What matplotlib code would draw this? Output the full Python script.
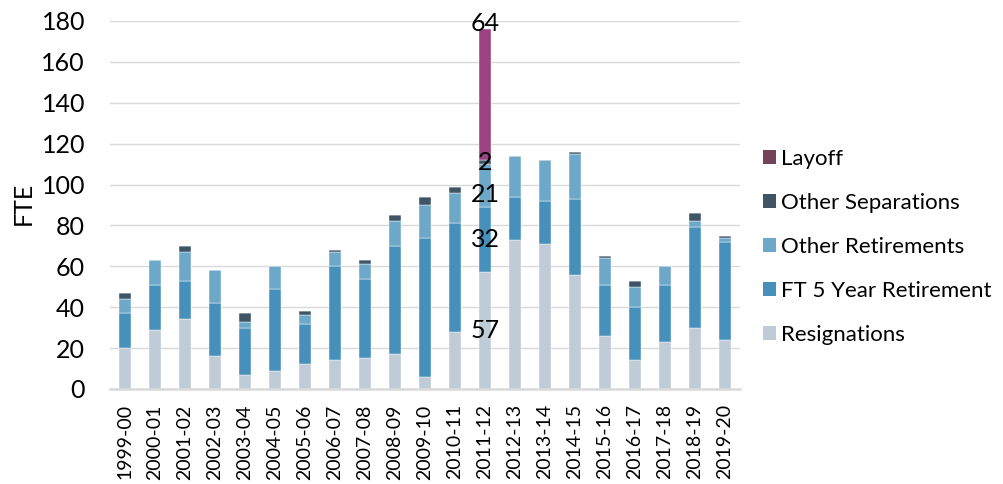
import matplotlib
matplotlib.use("Agg")
import matplotlib.pyplot as plt
from matplotlib.patches import Patch
import numpy as np

plt.rcParams['font.family'] = ['Lato', 'DejaVu Sans']

# Fiscal years and separations by type (FTE)
categories = ['1999-00', '2000-01', '2001-02', '2002-03', '2003-04', '2004-05',
              '2005-06', '2006-07', '2007-08', '2008-09', '2009-10', '2010-11',
              '2011-12', '2012-13', '2013-14', '2014-15', '2015-16', '2016-17',
              '2017-18', '2018-19', '2019-20']
resignations = [20, 29, 34, 16, 7, 9, 12, 14, 15, 17, 6, 28, 57, 73, 71, 56, 26, 14, 23, 30, 24]
ft5_retirement = [17, 22, 19, 26, 23, 40, 20, 46, 39, 53, 68, 53, 32, 21, 21, 37, 25, 26, 28, 49, 48]
other_retirements = [7, 12, 14, 16, 3, 11, 4, 7, 7, 12, 16, 15, 21, 20, 20, 22, 13, 10, 9, 3, 2]
other_separations = [3, 0, 3, 0, 4, 0, 2, 1, 2, 3, 4, 3, 2, 0, 0, 1, 1, 3, 0, 4, 1]
layoff = [0, 0, 0, 0, 0, 0, 0, 0, 0, 0, 0, 0, 64, 0, 0, 0, 0, 0, 0, 0, 0]

labelled_year = '2011-12'
y_ticks = [0, 20, 40, 60, 80, 100, 120, 140, 160, 180]

series = [
    ('Resignations', resignations, '#BFCBD6'),
    ('FT 5 Year Retirement', ft5_retirement, '#4690BB'),
    ('Other Retirements', other_retirements, '#6EA8C9'),
    ('Other Separations', other_separations, '#3F5566'),
    ('Layoff', layoff, '#9C4282'),
]
legend_colors = {'Layoff': '#74435A'}

fig = plt.figure(figsize=(10.04, 4.84), dpi=100)
ax = fig.add_axes([110 / 1004, 1 - 389 / 484, 630 / 1004, 368 / 484])

x = np.arange(len(categories))
bottom = np.zeros(len(categories))
segments = {}
for name, vals, color in series:
    vals = np.array(vals, dtype=float)
    ax.bar(x, vals, width=0.4, bottom=bottom, color=color,
           edgecolor='white', linewidth=0.3, zorder=2)
    segments[name] = (bottom.copy(), vals)
    bottom = bottom + vals

# Value labels on the 2011-12 stack
i = categories.index(labelled_year)
label_offsets = {'Resignations': 0, 'FT 5 Year Retirement': 0,
                 'Other Retirements': -6.5, 'Other Separations': 0}
for name, _, _ in series:
    b, v = segments[name]
    if v[i] <= 0:
        continue
    if name == 'Layoff':
        ypos, dy = b[i] + v[i], 4
    else:
        ypos, dy = b[i] + v[i] / 2, label_offsets[name]
    ax.annotate(f'{int(v[i])}', (x[i], ypos), xytext=(0, dy),
                textcoords='offset points', ha='center', va='center',
                fontsize=18, color='black', zorder=5)

ax.set_xlim(-0.5, len(categories) - 0.5)
ax.set_ylim(0, 180)
ax.set_yticks(y_ticks)
ax.set_xticks(x)
ax.set_xticklabels(categories, rotation=90, fontsize=14)
ax.tick_params(axis='y', length=0, pad=18, labelsize=18)
ax.tick_params(axis='x', length=0, pad=11)

ax.yaxis.grid(True, color='#D9D9D9', linewidth=1.0)
ax.set_axisbelow(True)
for s in ['top', 'right', 'left']:
    ax.spines[s].set_visible(False)
ax.spines['bottom'].set_color('#D9D9D9')
ax.spines['bottom'].set_linewidth(1.8)
ax.spines['bottom'].set_zorder(3)

fig.text(23 / 1004, 1 - 203 / 484, 'FTE', rotation=90, ha='center',
         va='center', fontsize=18)

handles = [Patch(facecolor=legend_colors.get(n, c), edgecolor='none', label=n)
           for n, _, c in reversed(series)]
fig.legend(handles=handles, loc='center left',
           bbox_to_anchor=(763 / 1004, 1 - 246.75 / 484),
           frameon=False, fontsize=16, borderpad=0, borderaxespad=0,
           handlelength=0.585, handleheight=0.585, handletextpad=0.22,
           labelspacing=1.08)

fig.savefig('out.png', dpi=100)
